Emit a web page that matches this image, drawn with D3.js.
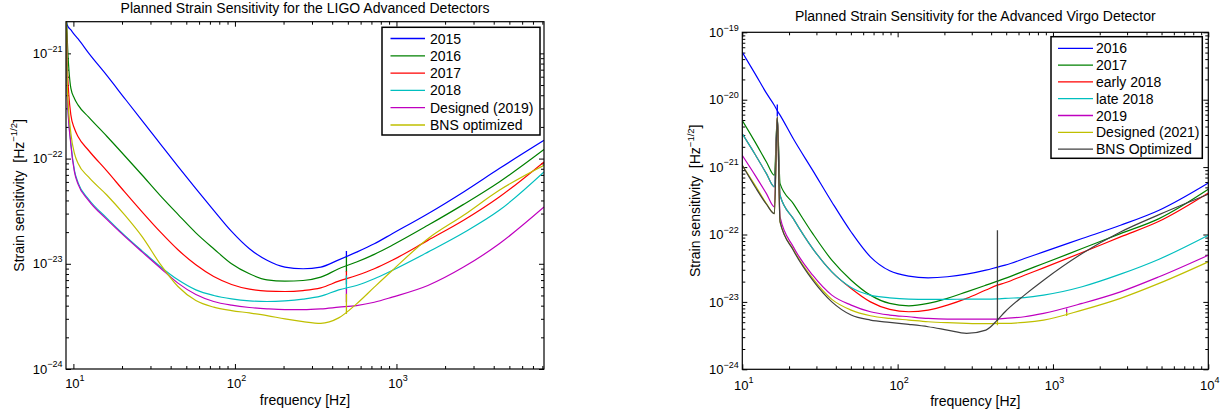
<!DOCTYPE html>
<html><head><meta charset="utf-8">
<script src="https://cdn.jsdelivr.net/npm/d3@7"></script>
<style>
body{margin:0;background:#fff;}
svg text{font-family:"Liberation Sans",Arial,Helvetica,sans-serif;fill:#000;white-space:pre;}
</style></head><body>
<svg id="chart" width="1223" height="414"></svg>
<script>
// ---------------- LIGO panel data ----------------
const ligoFreq = [9.0, 9.17, 9.65, 10.15, 10.7, 12.4, 16.1, 20.7, 26.7, 34.4, 44.4, 57.3, 73.9, 95.3, 123, 158, 204, 264, 340, 439, 566, 729, 941, 1565, 2603, 4330, 8190];
const ligo2015 = [2.1e-21, 1.85e-21, 1.67e-21, 1.51e-21, 1.37e-21, 1.01e-21, 6.17e-22, 3.76e-22, 2.28e-22, 1.39e-22, 8.45e-23, 5.18e-23, 3.22e-23, 2.03e-23, 1.39e-23, 1.08e-23, 9.3e-24, 8.97e-24, 9.3e-24, 1.09e-23, 1.29e-23, 1.55e-23, 1.93e-23, 2.99e-23, 4.82e-23, 8.04e-23, 1.49e-22];
const ligo2016 = [3e-21, 1.34e-21, 4.64e-22, 3.73e-22, 3.22e-22, 2.49e-22, 1.63e-22, 1.07e-22, 6.94e-23, 4.47e-23, 2.95e-23, 1.97e-23, 1.39e-23, 1.0e-23, 8.03e-24, 7.04e-24, 6.84e-24, 6.94e-24, 7.46e-24, 8.97e-24, 1.04e-23, 1.23e-23, 1.50e-23, 2.32e-23, 3.67e-23, 6.0e-23, 1.22e-22];
const ligo2017 = [3e-21, 7.46e-22, 2.59e-22, 1.93e-22, 1.61e-22, 1.20e-22, 7.63e-23, 4.85e-23, 3.10e-23, 2.02e-23, 1.36e-23, 9.78e-24, 7.57e-24, 6.36e-24, 5.74e-24, 5.49e-24, 5.45e-24, 5.57e-24, 5.91e-24, 6.84e-24, 7.74e-24, 8.97e-24, 1.08e-23, 1.67e-23, 2.59e-23, 4.31e-23, 9.30e-23];
const ligo2018 = [3e-21, 4.16e-22, 1.39e-22, 7.74e-23, 5.87e-23, 4.13e-23, 2.72e-23, 1.87e-23, 1.32e-23, 9.43e-24, 7.04e-24, 5.65e-24, 5.0e-24, 4.64e-24, 4.44e-24, 4.38e-24, 4.44e-24, 4.61e-24, 4.92e-24, 5.65e-24, 6.22e-24, 7.20e-24, 8.64e-24, 1.29e-23, 1.97e-23, 3.22e-23, 7.46e-23];
const ligoDesigned = [3e-21, 4.01e-22, 1.34e-22, 7.46e-23, 5.69e-23, 4.01e-23, 2.64e-23, 1.83e-23, 1.29e-23, 9.16e-24, 6.55e-24, 5.10e-24, 4.38e-24, 4.04e-24, 3.84e-24, 3.73e-24, 3.67e-24, 3.67e-24, 3.73e-24, 3.87e-24, 4.01e-24, 4.31e-24, 4.82e-24, 6.22e-24, 9.30e-24, 1.55e-23, 3.46e-23];
const ligoBNS = [3e-21, 4.81e-22, 1.73e-22, 1.12e-22, 8.96e-23, 6.69e-23, 4.51e-23, 2.93e-23, 1.80e-23, 1.0e-23, 6.08e-24, 4.47e-24, 3.87e-24, 3.59e-24, 3.41e-24, 3.22e-24, 2.99e-24, 2.82e-24, 2.72e-24, 3.06e-24, 4.16e-24, 6.0e-24, 8.64e-24, 1.73e-23, 2.89e-23, 5.0e-23, 8.64e-23];
const ligoNames = ["2015", "2016", "2017", "2018", "Designed (2019)", "BNS optimized"];
const ligoColors = ["#0000ff", "#008000", "#ff0000", "#00bfbf", "#bf00bf", "#bfbf00"];
// narrow resonance lines: [series index, frequency, top value, bottom value]
const ligoSpikes = [[0, 490, 1.32e-23, 1.14e-23], [1, 490, 1.16e-23, 8.33e-24], [2, 490, 8.51e-24, 6.36e-24], [3, 490, 7.74e-24, 5.65e-24], [4, 490, 5.78e-24, 4.31e-24], [5, 490, 5.18e-24, 3.34e-24]];
const ligoXTicks = [10, 100, 1000];
const ligoYTicks = [1e-24, 1e-23, 1e-22, 1e-21];

// ---------------- Virgo panel data ----------------
const virgoFreq = [10, 12.1, 14.3, 16.1, 16.8, 17.5, 21.3, 28.4, 37.7, 50.2, 66.8, 88.9, 118, 157, 209, 278, 370, 439, 492, 655, 870, 1540, 2720, 4820, 10000];
const virgo2016 = [5.06e-20, 2.42e-20, 1.25e-20, 8.2e-21, 6.87e-21, 5.9e-21, 2.63e-21, 8.95e-22, 3.04e-22, 1.09e-22, 4.66e-23, 2.89e-23, 2.41e-23, 2.28e-23, 2.36e-23, 2.58e-23, 2.96e-23, 3.28e-23, 3.51e-23, 4.40e-23, 5.53e-23, 8.71e-23, 1.37e-22, 2.29e-22, 5.81e-22];
const virgo2017 = [4.92e-21, 2.35e-21, 1.19e-21, 7.54e-22, 5.51e-21, 5.68e-22, 2.87e-22, 1.03e-22, 4.16e-23, 2.10e-23, 1.26e-23, 9.49e-24, 8.76e-24, 9.49e-24, 1.13e-23, 1.41e-23, 1.77e-23, 2.03e-23, 2.23e-23, 2.89e-23, 3.71e-23, 6.19e-23, 1.03e-22, 1.72e-22, 4.68e-22];
const virgoEarly2018 = [3.12e-21, 1.54e-21, 7.99e-22, 5.07e-22, 5.51e-21, 3.82e-22, 1.72e-22, 6.19e-23, 2.79e-23, 1.58e-23, 1.00e-23, 7.73e-24, 7.14e-24, 7.56e-24, 8.97e-24, 1.13e-23, 1.50e-23, 1.77e-23, 1.92e-23, 2.49e-23, 3.20e-23, 5.40e-23, 9.21e-23, 1.57e-22, 4.13e-22];
const virgoLate2018 = [3.12e-21, 1.54e-21, 7.99e-22, 5.07e-22, 5.51e-21, 3.82e-22, 1.72e-22, 6.19e-23, 2.79e-23, 1.64e-23, 1.26e-23, 1.15e-23, 1.10e-23, 1.09e-23, 1.09e-23, 1.10e-23, 1.10e-23, 1.11e-23, 1.13e-23, 1.16e-23, 1.26e-23, 1.68e-23, 2.58e-23, 4.30e-23, 9.75e-23];
const virgo2019 = [1.49e-21, 7.54e-22, 4.04e-22, 2.56e-22, 5.51e-21, 1.82e-22, 6.55e-23, 2.49e-23, 1.26e-23, 8.97e-24, 7.14e-24, 6.38e-24, 6.02e-24, 5.69e-24, 5.56e-24, 5.56e-24, 5.56e-24, 5.56e-24, 5.69e-24, 6.02e-24, 6.75e-24, 9.49e-24, 1.41e-23, 2.36e-23, 4.93e-23];
const virgoDesigned = [1.06e-21, 5.36e-22, 2.87e-22, 2.04e-22, 5.51e-21, 1.54e-22, 5.98e-23, 2.23e-23, 1.09e-23, 7.56e-24, 6.23e-24, 5.69e-24, 5.38e-24, 5.08e-24, 4.91e-24, 4.80e-24, 4.75e-24, 4.80e-24, 4.80e-24, 4.97e-24, 5.38e-24, 7.56e-24, 1.13e-23, 1.88e-23, 3.93e-23];
const virgoBNS = [1.06e-21, 5.07e-22, 2.81e-22, 2.04e-22, 5.51e-21, 1.54e-22, 5.85e-23, 2.10e-23, 1.00e-23, 6.38e-24, 5.38e-24, 4.97e-24, 4.64e-24, 4.28e-24, 3.82e-24, 3.41e-24, 3.82e-24, 5.38e-24, 7.14e-24, 1.26e-23, 2.10e-23, 5.22e-23, 1.09e-22, 1.97e-22, 3.95e-22];
const virgoNames = ["2016", "2017", "early 2018", "late 2018", "2019", "Designed (2021)", "BNS Optimized"];
const virgoColors = ["#0000ff", "#008000", "#ff0000", "#00bfbf", "#bf00bf", "#bfbf00", "#404040"];
const virgoSpikes = [[0, 16.8, 8.49e-21, 5.64e-21], [5, 439, 5.3e-24, 4.5e-24], [4, 1225, 8.0e-24, 6.9e-24], [5, 1225, 7.0e-24, 6.2e-24], [6, 439, 1.16e-22, 5.2e-24]];
const virgoXTicks = [10, 100, 1000, 10000];
const virgoYTicks = [1e-24, 1e-23, 1e-22, 1e-21, 1e-20, 1e-19];

const svg = d3.select("#chart");
const defs = svg.append("defs");

function minorTicks(domain) {
  const out = [];
  const lo = Math.floor(Math.log10(domain[0])), hi = Math.ceil(Math.log10(domain[1]));
  for (let e = lo; e <= hi; e++) {
    for (let m = 2; m <= 9; m++) {
      const v = m * Math.pow(10, e);
      if (v > domain[0] && v < domain[1]) out.push(v);
    }
  }
  return out;
}
function sup(v) { return String(Math.round(Math.log10(v))).replace("-", "\u2212"); }

function drawPanel(cfg) {
  const x = d3.scaleLog().domain(cfg.xDomain).range([cfg.left, cfg.right]);
  const y = d3.scaleLog().domain(cfg.yDomain).range([cfg.bottom, cfg.top]);
  const W = cfg.right - cfg.left, H = cfg.bottom - cfg.top;
  const g = svg.append("g");
  defs.append("clipPath").attr("id", "clip-" + cfg.id).append("rect")
    .attr("x", cfg.left).attr("y", cfg.top).attr("width", W).attr("height", H);

  // ticks (inward, on all four sides)
  const addAxis = (axis, tx, ty, vals, size) => {
    const a = g.append("g").attr("transform", `translate(${tx},${ty})`)
      .call(axis.tickValues(vals).tickSize(size).tickFormat(""));
    a.select(".domain").remove();
    a.selectAll("line").attr("stroke", "#000").attr("stroke-width", 1);
  };
  const xMin = minorTicks(cfg.xDomain), yMin = minorTicks(cfg.yDomain);
  addAxis(d3.axisBottom(x), 0, cfg.bottom, cfg.xTicks, -5);
  addAxis(d3.axisBottom(x), 0, cfg.bottom, xMin, -3);
  addAxis(d3.axisTop(x), 0, cfg.top, cfg.xTicks, -5);
  addAxis(d3.axisTop(x), 0, cfg.top, xMin, -3);
  addAxis(d3.axisLeft(y), cfg.left, 0, cfg.yTicks, -5);
  addAxis(d3.axisLeft(y), cfg.left, 0, yMin, -3);
  addAxis(d3.axisRight(y), cfg.right, 0, cfg.yTicks, -5);
  addAxis(d3.axisRight(y), cfg.right, 0, yMin, -3);

  // curves
  const plot = g.append("g").attr("clip-path", `url(#clip-${cfg.id})`);
  const line = d3.line().x(d => x(d[0])).y(d => y(d[1])).curve(d3.curveMonotoneX);
  const seg = d3.line().x(d => x(d[0])).y(d => y(d[1]));
  cfg.series.forEach((vals, i) => {
    const pts = cfg.freq.map((f, j) => [f, vals[j]]);
    plot.append("path").attr("d", line(pts)).attr("fill", "none")
      .attr("stroke", cfg.colors[i]).attr("stroke-width", 1.2).attr("stroke-linejoin", "round");
    cfg.spikes.filter(s => s[0] === i).forEach(s => {
      plot.append("path").attr("d", seg([[s[1], s[2]], [s[1], s[3]]])).attr("fill", "none")
        .attr("stroke", cfg.colors[i]).attr("stroke-width", 1.3);
    });
  });

  // box
  g.append("rect").attr("x", cfg.left).attr("y", cfg.top).attr("width", W).attr("height", H)
    .attr("fill", "none").attr("stroke", "#000").attr("stroke-width", 1.2);

  // tick labels
  cfg.xTicks.forEach(v => {
    const t = g.append("text").attr("x", x(v) + 1.5).attr("y", cfg.bottom + cfg.xLabOff)
      .attr("text-anchor", "middle").attr("font-size", 13);
    t.append("tspan").text("10");
    t.append("tspan").attr("dy", -6.5).attr("font-size", 9).text(sup(v));
  });
  cfg.yTicks.forEach(v => {
    const t = g.append("text").attr("x", cfg.left - 3.5).attr("y", y(v) + 4.7)
      .attr("text-anchor", "end").attr("font-size", 13);
    t.append("tspan").text("10");
    t.append("tspan").attr("dy", -6.5).attr("font-size", 9).text(sup(v));
  });

  // titles
  g.append("text").attr("x", (cfg.left + cfg.right) / 2).attr("y", cfg.titleY)
    .attr("text-anchor", "middle").attr("font-size", 14).text(cfg.title);
  g.append("text").attr("x", (cfg.left + cfg.right) / 2).attr("y", cfg.xTitleY)
    .attr("text-anchor", "middle").attr("font-size", 14).text("frequency [Hz]");
  const yt = g.append("text").attr("transform", `translate(${cfg.yTitleX},${(cfg.top + cfg.bottom) / 2}) rotate(-90)`)
    .attr("text-anchor", "middle").attr("font-size", 14);
  yt.append("tspan").text("Strain sensitivity  [Hz");
  yt.append("tspan").attr("dy", -6.5).attr("font-size", 9.5).text("\u22121/2");
  yt.append("tspan").attr("dy", 6.5).text("]");

  // legend
  const L = cfg.legend;
  g.append("rect").attr("x", L.x0).attr("y", L.y0).attr("width", L.x1 - L.x0).attr("height", L.y1 - L.y0)
    .attr("fill", "#fff").attr("stroke", "#000").attr("stroke-width", 1.5);
  cfg.names.forEach((n, i) => {
    const yy = L.row0 + i * L.step;
    g.append("line").attr("x1", L.lx0).attr("x2", L.lx1).attr("y1", yy).attr("y2", yy)
      .attr("stroke", cfg.colors[i]).attr("stroke-width", 1.3);
    g.append("text").attr("x", L.tx).attr("y", yy + 5).attr("font-size", 14).text(n);
  });
}

drawPanel({
  id: "ligo", left: 66, right: 544, top: 21.7, bottom: 369,
  xDomain: [9, 8192], yDomain: [1e-24, 2e-21],
  xTicks: ligoXTicks, yTicks: ligoYTicks, xLabOff: 18.7,
  freq: ligoFreq, series: [ligo2015, ligo2016, ligo2017, ligo2018, ligoDesigned, ligoBNS],
  names: ligoNames, colors: ligoColors, spikes: ligoSpikes,
  title: "Planned Strain Sensitivity for the LIGO Advanced Detectors", titleY: 13,
  xTitleY: 404.5, yTitleX: 23.5,
  legend: { x0: 382, x1: 540, y0: 27.3, y1: 135, row0: 38.5, step: 17.3, lx0: 390.5, lx1: 425, tx: 430 }
});

drawPanel({
  id: "virgo", left: 742.3, right: 1208.3, top: 32.3, bottom: 369.3,
  xDomain: [10, 10000], yDomain: [1e-24, 1e-19],
  xTicks: virgoXTicks, yTicks: virgoYTicks, xLabOff: 20.4,
  freq: virgoFreq, series: [virgo2016, virgo2017, virgoEarly2018, virgoLate2018, virgo2019, virgoDesigned, virgoBNS],
  names: virgoNames, colors: virgoColors, spikes: virgoSpikes,
  title: "Planned Strain Sensitivity for the Advanced Virgo Detector", titleY: 21,
  xTitleY: 406, yTitleX: 700,
  legend: { x0: 1051, x1: 1202.3, y0: 36.7, y1: 158.3, row0: 48.3, step: 16.8, lx0: 1058, lx1: 1093, tx: 1096 }
});
</script>
</body></html>
